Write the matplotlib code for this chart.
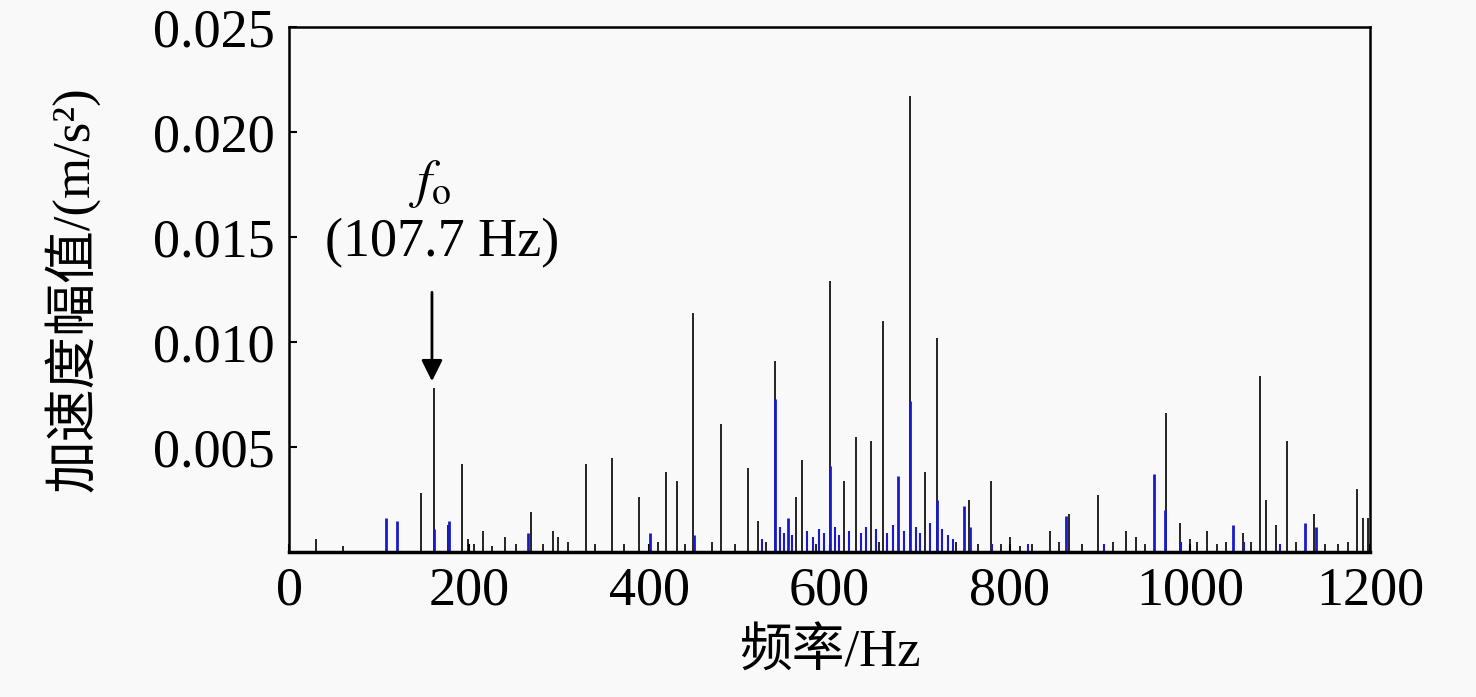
import matplotlib
matplotlib.use("Agg")
import matplotlib.pyplot as plt

plt.rcParams['font.family'] = ['Liberation Serif', 'Noto Sans CJK SC']
plt.rcParams['mathtext.fontset'] = 'stix'

# main spectral lines (Hz, m/s^2)
black_freq = [30, 60, 147, 161, 177, 192, 199, 215, 240, 269, 293, 299, 330, 358,
              389, 419, 431, 449, 480, 509, 521, 539, 563, 569, 600, 616, 629, 646,
              659, 689, 706, 719, 755, 779, 800, 845, 866, 898, 929, 940, 974, 989,
              1000, 1019, 1059, 1078, 1084, 1096, 1108, 1138, 1185, 1192, 1198]
black_amp = [0.0006, 0.0003, 0.0028, 0.0078, 0.0013, 0.0042, 0.0006, 0.0010, 0.0007,
             0.0019, 0.0010, 0.0007, 0.0042, 0.0045, 0.0026, 0.0038, 0.0034, 0.0114,
             0.0061, 0.0040, 0.0015, 0.0091, 0.0026, 0.0044, 0.0129, 0.0034, 0.0055,
             0.0053, 0.0110, 0.0217, 0.0038, 0.0102, 0.0025, 0.0034, 0.0007, 0.0010,
             0.0018, 0.0027, 0.0010, 0.0007, 0.0066, 0.0014, 0.0006, 0.0010, 0.0009,
             0.0084, 0.0025, 0.0013, 0.0053, 0.0018, 0.0030, 0.0016, 0.0016]

# small lines of the black spectrum near the floor
black_floor_freq = [205, 225, 252, 282, 310, 340, 372, 410, 440, 470, 495, 530, 585,
                    655, 700, 740, 765, 790, 812, 825, 855, 880, 915, 950, 1008, 1030,
                    1040, 1068, 1118, 1150, 1165, 1175]
black_floor_amp = [0.0004, 0.0003, 0.0004, 0.0004, 0.0005, 0.0004, 0.0004, 0.0005,
                   0.0004, 0.0005, 0.0004, 0.0005, 0.0004, 0.0005, 0.0005, 0.0005,
                   0.0004, 0.0004, 0.0003, 0.0004, 0.0005, 0.0004, 0.0005, 0.0004,
                   0.0005, 0.0004, 0.0005, 0.0005, 0.0005, 0.0004, 0.0004, 0.0005]

blue_freq = [108, 120, 161, 178, 265, 401, 450, 540, 554, 600, 676, 689, 719, 749,
             756, 862, 960, 972, 1048, 1128, 1140]
blue_amp = [0.0016, 0.0015, 0.0011, 0.0015, 0.0009, 0.0009, 0.0008, 0.0073, 0.0016,
            0.0041, 0.0036, 0.0072, 0.0025, 0.0022, 0.0012, 0.0017, 0.0037, 0.0020,
            0.0013, 0.0014, 0.0012]

# blue noise band between about 520 and 740 Hz
blue_floor_freq = [525, 545, 549, 558, 575, 582, 588, 594, 606, 611, 622, 635, 640,
                   652, 664, 670, 683, 696, 701, 711, 725, 731, 737, 780, 820, 905,
                   990, 1060, 1100]
blue_floor_amp = [0.0006, 0.0012, 0.0009, 0.0008, 0.0010, 0.0007, 0.0011, 0.0009,
                  0.0012, 0.0008, 0.0010, 0.0009, 0.0012, 0.0011, 0.0009, 0.0013,
                  0.0010, 0.0012, 0.0009, 0.0014, 0.0011, 0.0008, 0.0006, 0.0004,
                  0.0004, 0.0004, 0.0005, 0.0005, 0.0004]

x_ticks = [0, 200, 400, 600, 800, 1000, 1200]
y_ticks = [0.005, 0.010, 0.015, 0.020, 0.025]

fig = plt.figure(figsize=(14.76, 6.97), dpi=100, facecolor='#f9f9f9')
ax = fig.add_axes([0.1958, 0.208, 0.7324, 0.7533], facecolor='#f9f9f9')

ax.vlines(black_floor_freq, 0, black_floor_amp, colors='black', lw=1.2)
ax.vlines(black_freq, 0, black_amp, colors='black', lw=1.2)
ax.vlines(blue_floor_freq, 0, blue_floor_amp, colors='#1a1acc', lw=1.5)
ax.vlines(blue_freq, 0, blue_amp, colors='#1a1acc', lw=2.0)

ax.set_xlim(0, 1200)
ax.set_ylim(0, 0.025)
ax.set_xticks(x_ticks)
ax.set_yticks(y_ticks)
ax.set_yticklabels([f"{v:.3f}" for v in y_ticks])
ax.tick_params(direction='in', length=6, width=1.5, labelsize=39, pad=10)
for sp in ax.spines.values():
    sp.set_linewidth(1.8)
ax.spines['bottom'].set_linewidth(2.5)

ax.set_xlabel("频率/Hz", fontsize=38)
ax.set_ylabel("加速度幅值/(m/s²)", fontsize=38)
ax.xaxis.set_label_coords(0.5, -0.145)
ax.yaxis.set_label_coords(-0.175, 0.5)

ax.annotate('', xy=(158.7, 0.0080), xytext=(158.7, 0.0125),
            arrowprops=dict(arrowstyle='-|>', color='black', lw=2, mutation_scale=32))
ax.text(156.5, 0.0175, r"$f_{\mathrm{o}}$", fontsize=39, ha='center', va='center')
ax.text(170, 0.0147, "(107.7 Hz)", fontsize=39, ha='center', va='center')

fig.savefig("out.png", dpi=100, facecolor=fig.get_facecolor())
